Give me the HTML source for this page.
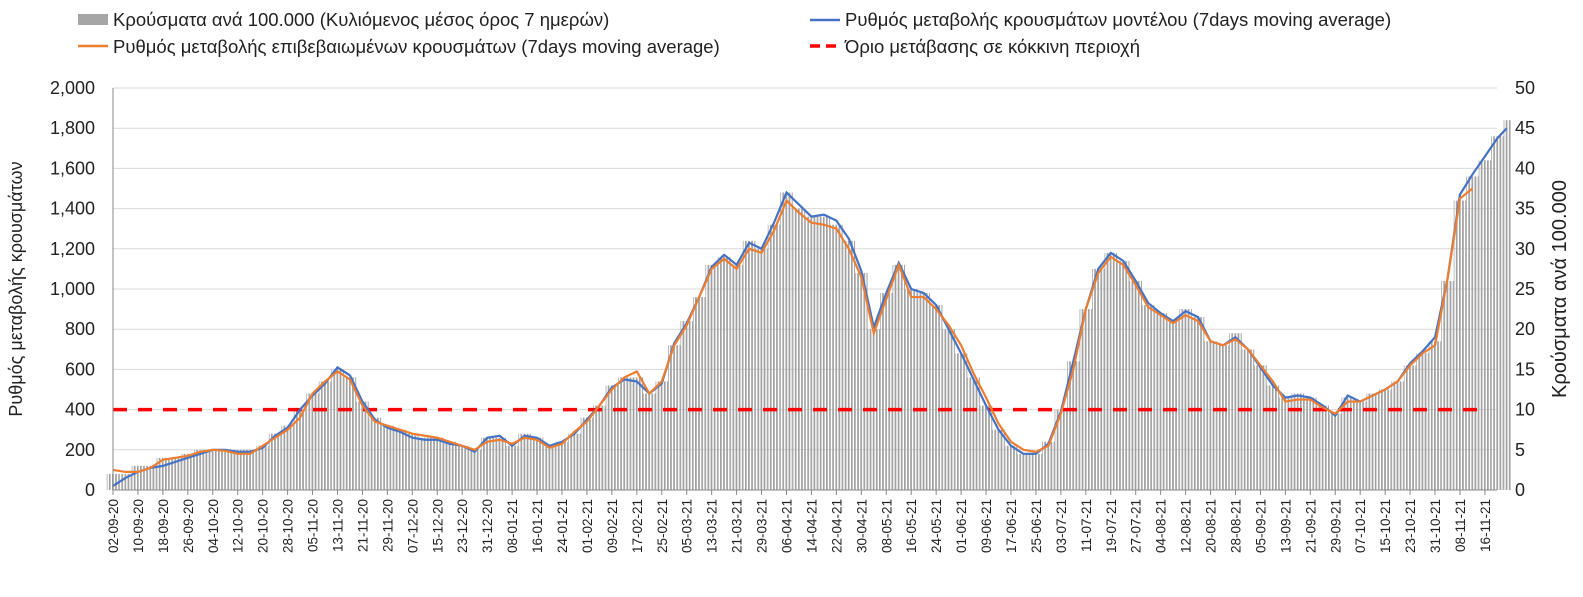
<!DOCTYPE html>
<html><head><meta charset="utf-8"><style>
body{margin:0;background:#fff;width:1583px;height:592px;overflow:hidden;font-family:"Liberation Sans",sans-serif}
svg text{font-family:"Liberation Sans",sans-serif;fill:#222}
</style></head><body>
<svg id="chart" width="1583" height="592" xmlns="http://www.w3.org/2000/svg">
<defs>
 <pattern id="stripes" patternUnits="userSpaceOnUse" x="112" y="0" width="3.118" height="10">
  <rect x="0" y="0" width="1.7" height="10" fill="#a0a0a0"/>
 </pattern>
</defs>
<g id="legend">
 <g><rect x="78" y="14" width="30" height="11" fill="#a6a6a6"/><text x="113" y="26" font-size="18.5">Κρούσματα ανά 100.000 (Κυλιόμενος μέσος όρος 7 ημερών)</text></g>
 <g><line x1="78" y1="46" x2="108" y2="46" stroke="#ed7d31" stroke-width="2.5"/><text x="113" y="53" font-size="18.5">Ρυθμός μεταβολής επιβεβαιωμένων κρουσμάτων (7days moving average)</text></g>
 <g><line x1="810" y1="20" x2="840" y2="20" stroke="#4472c4" stroke-width="2.5"/><text x="845" y="26" font-size="18.5">Ρυθμός μεταβολής κρουσμάτων μοντέλου (7days moving average)</text></g>
 <g><line x1="810" y1="46" x2="840" y2="46" stroke="#ff0000" stroke-width="3.5" stroke-dasharray="10,6"/><text x="845" y="53" font-size="18.5">Όριο μετάβασης σε κόκκινη περιοχή</text></g>
</g>
<text transform="translate(22,289) rotate(-90)" text-anchor="middle" font-size="18">Ρυθμός μεταβολής κρουσμάτων</text>
<text transform="translate(1566,289) rotate(-90)" text-anchor="middle" font-size="20">Κρούσματα ανά 100.000</text>
<g id="grid"></g><g id="bars"></g><g id="lines"></g><g id="axes"></g>
</svg>
<script>
const step = 4;
const blueRate = [20,60,90,110,120,140,160,180,200,200,190,190,210,270,310,400,470,530,610,570,440,350,310,290,260,250,250,230,220,190,260,270,220,270,260,220,240,280,350,420,510,550,540,480,530,730,830,960,1110,1170,1120,1230,1200,1330,1480,1420,1360,1370,1340,1250,1090,810,980,1130,1000,980,920,800,680,550,420,300,220,180,180,230,390,640,900,1100,1180,1140,1040,930,880,840,890,860,740,720,760,700,610,520,460,470,460,420,370,470,440,470,500,540,630,690,760,1050,1470,1570,1660,1750,1800];
const orangeRate = [100,90,90,110,150,160,170,190,200,195,180,180,220,260,300,360,480,540,590,550,420,340,320,300,280,270,260,240,220,200,240,250,230,260,250,210,230,290,340,420,500,560,590,480,540,720,820,960,1100,1150,1100,1200,1180,1290,1440,1380,1330,1320,1300,1200,1060,780,950,1120,960,960,900,820,720,580,460,330,240,200,190,220,380,600,900,1080,1160,1120,1020,910,870,830,870,840,740,720,750,700,620,540,440,450,450,410,380,440,440,470,500,540,620,680,720,1050,1450,1500];
const casesPer100k = [2,2,3,3,4,4,4.5,5,5,5,5,5,5.5,7,8,10,12,13.5,15,14,11,9,8,7.5,7,6.5,6.5,6,5.5,5,6.5,6.5,5.5,7,6.5,5.5,6,7,9,10.5,13,14,14,12,13.5,18,21,24,28,29,28,31,30,33,37,35,34,34,33,31,27,20,24.5,28,25,24.5,23,20,17,14,10.5,7.5,5.5,4.5,4.5,6,10,16,22.5,27.5,29.5,28.5,26,23,22,21,22.5,21.5,18.5,18,19.5,17.5,15.5,13,11.5,12,11.5,10.5,9.5,11.5,11,12,12.5,13.5,15.5,17,18.5,26,36,39,41,44,46];
const leftTicks = [0,200,400,600,800,1000,1200,1400,1600,1800,2000];
const rightTicks = [0,5,10,15,20,25,30,35,40,45,50];
const threshold = 400;

const X0=113, PXD=3.118, Y0=490, YT=88;
const xs = d => X0 + d*PXD;
const yL = v => Y0 - v/2000*(Y0-YT);
const yR = v => Y0 - v/50*(Y0-YT);
const NS='http://www.w3.org/2000/svg';
function mk(tag, attrs, parent){const e=document.createElementNS(NS,tag);for(const k in attrs)e.setAttribute(k,attrs[k]);parent.appendChild(e);return e;}
const grid=document.getElementById('grid'), bars=document.getElementById('bars'), lines=document.getElementById('lines'), axes=document.getElementById('axes');

leftTicks.forEach(v=>{
  const g=mk('line',{x1:X0,x2:1497,y1:yL(v),y2:yL(v),stroke:'#d9d9d9','stroke-width':1},grid);
  
  
  const t=mk('text',{x:95,y:yL(v)+6,'text-anchor':'end','font-size':18},axes);
  t.textContent=v.toLocaleString('en-US');
  
  
});
rightTicks.forEach(v=>{
  const t=mk('text',{x:1515,y:yR(v)+6,'font-size':18},axes);
  t.textContent=v;
  
  
});
casesPer100k.forEach((v,i)=>{
  const d=i*step, x=xs(d);
  const w=(i===casesPer100k.length-1)?step*PXD*0.6:step*PXD;
  const r=mk('rect',{x:x-step*PXD/2,y:yR(v),width:w,height:Y0-yR(v),fill:'url(#stripes)'},bars);
  
  
});
const rl=mk('line',{x1:X0,x2:1486,y1:yL(threshold),y2:yL(threshold),stroke:'#ff0000','stroke-width':3.5,'stroke-dasharray':'14,11'},lines);


const pb=mk('polyline',{points:blueRate.map((v,i)=>xs(Math.min(i*step,447))+','+yL(v)).join(' '),fill:'none',stroke:'#4472c4','stroke-width':2.2},lines);


const po=mk('polyline',{points:orangeRate.map((v,i)=>xs(i*step)+','+yL(v)).join(' '),fill:'none',stroke:'#ed7d31','stroke-width':2.2},lines);


mk('line',{x1:X0,x2:X0,y1:YT,y2:Y0,stroke:'#888'},axes);
mk('line',{x1:X0,x2:1497,y1:Y0,y2:Y0,stroke:'#888'},axes);
const start=new Date(2020,8,2);
for(let d=0; d<=440; d+=8){
  const dt=new Date(start.getTime()+d*86400000);
  const lbl=String(dt.getDate()).padStart(2,'0')+'-'+String(dt.getMonth()+1).padStart(2,'0')+'-'+String(dt.getFullYear()).slice(2);
  const x=xs(d);
  mk('line',{x1:x,x2:x,y1:Y0,y2:Y0+5,stroke:'#888'},axes);
  const t=mk('text',{transform:`translate(${x+5},${Y0+9}) rotate(-90)`,'text-anchor':'end','font-size':13.5},axes);
  t.textContent=lbl;
  
  
}
</script>
</body></html>
